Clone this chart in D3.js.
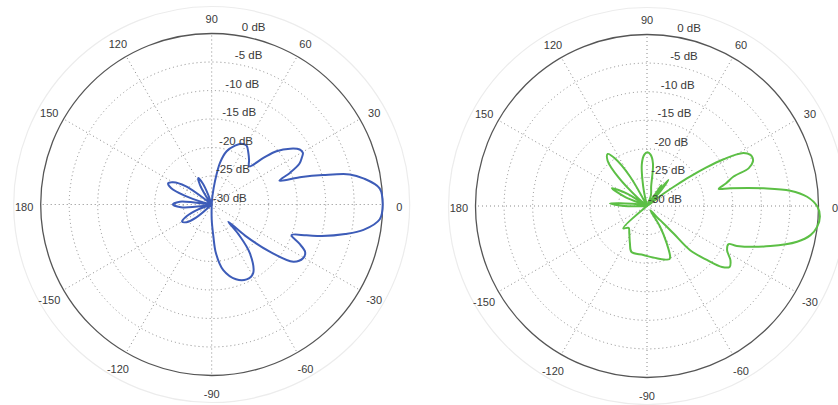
<!DOCTYPE html>
<html>
<head>
<meta charset="utf-8">
<script src="https://cdn.jsdelivr.net/npm/d3@7"></script>
<style>
  html, body { margin: 0; padding: 0; background: #ffffff; }
  svg { display: block; }
  text { font-family: "Liberation Sans", Arial, sans-serif; fill: #3a3a3a; }
</style>
</head>
<body>
<svg id="chart" width="838" height="405"></svg>
<script>
// Radial axis ticks (dB) and angular ticks (degrees)
const dbTicks = [0, -5, -10, -15, -20, -25, -30];
const angleTicks = [0, 30, 60, 90, 120, 150, 180, -150, -120, -90, -60, -30];

// Pattern 1 (blue): angle in degrees, gain in dB
const blueAngles = [-180, -175, -170, -165, -160, -155, -150, -145, -140, -135, -115, -95,
  -90, -87, -85, -80, -72, -65, -59, -52, -48, -46, -43, -39, -35, -30.5, -27, -24, -21, -18, -16,
  -12.5, -9.5, -5, 0, 5.5, 9.8, 12.3, 14.8, 17, 19.4, 22, 25, 27.4, 29.6, 32, 35.4, 39.4, 42,
  45.5, 50, 54.6, 59.3, 63.7, 68.4, 74.3, 78.7, 82, 85, 88, 96, 105, 110, 113, 117, 121, 125, 128,
  134, 140, 145, 150, 154, 158, 162, 166, 170, 175];
const blueGain = [-23.2, -24.6, -28.5, -30, -27.5, -25.2, -24, -24.6, -26.5, -30, -30, -30,
  -27.4, -24.4, -21.4, -18.3, -16.2, -15.5, -15.9, -19.1, -23, -25.8, -22, -16.8, -12.5, -11.4, -11.6, -13.2, -15, -12.5, -9.9,
  -6, -3, -0.4, 0, -0.4, -3, -5.2, -9.8, -13.5, -17.4, -15.2, -13, -12.2, -11.6, -11.8, -13.1, -15.3, -17.8,
  -20.6, -19.8, -18.9, -18, -18.1, -18.9, -20.3, -22.5, -25.9, -28.5, -30, -30, -30, -28, -26, -24.8, -26, -28.5, -30,
  -30, -30, -24.4, -22.2, -21.5, -22.3, -25, -28.5, -30, -24.4];

// Pattern 2 (green): angle in degrees, gain in dB
const greenAngles = [-180, -175, -170, -155, -140, -136.7, -130, -122.9, -114.5, -108.6, -94.3, -79.5,
  -67.3, -65.6, -62.2, -57.8, -52, -48, -47, -46, -45.7, -42, -39.1, -36.4, -33, -28.9, -25, -24,
  -18, -13.4, -10.1, -6.9, -3.5, -0.2, 3.3, 6.1, 8.6, 12, 13.4, 16, 18.8, 20.4, 22.8, 24.5, 26.3,
  29.1, 31.4, 33, 34.3, 35.5, 37, 42, 47, 50.6, 53, 55.5, 58, 62, 70, 78, 82, 86, 89.6, 93, 97,
  101, 106, 115, 120, 124, 127, 131, 135, 139, 144, 148, 153, 158, 163, 170, 176];
const greenGain = [-26, -30, -30, -30, -30, -24.3, -25, -24.3, -22.8, -21.5, -21.4, -20.7,
  -19.9, -20.2, -22.6, -25.7, -29, -27, -26.6, -23.3, -19.2, -15.9, -13.1, -12.05, -12.6, -14, -14.25, -12.8,
  -7.3, -3, -0.95, 0, 0.3, -0.2, -1.95, -4.8, -9.35, -15.1, -17.1, -15.6, -14, -11, -9.9, -9.7, -9.8,
  -11, -14.3, -17.7, -20.9, -23.9, -26.5, -30, -27, -24.1, -28, -25.5, -30, -30, -28, -26.5, -22.5, -21, -20.6, -21, -22.6,
  -26.5, -30, -30, -24, -20, -18.6, -19.5, -23, -28, -30, -26, -23.1, -26, -30, -28, -23.5];

const svg = d3.select("#chart");

function polarPlot(cx, cy, R, angles, gains, color) {
  const g = svg.append("g").attr("transform", `translate(${cx},${cy})`);
  const r = d3.scaleLinear().domain([-30, 0]).range([0, R]);
  const rad = d => d * Math.PI / 180;

  // faint outer halo
  g.append("circle").attr("r", R + 27).attr("fill", "none")
    .attr("stroke", "#ececec").attr("stroke-width", 1.2);

  // dotted rings
  g.selectAll("circle.ring").data(dbTicks.filter(d => d > -30 && d < 0)).join("circle")
    .attr("class", "ring").attr("r", d => r(d)).attr("fill", "none")
    .attr("stroke", "#8a8a8a").attr("stroke-width", 1).attr("stroke-dasharray", "1,3");

  // dotted spokes
  g.selectAll("line.spoke").data(angleTicks).join("line")
    .attr("class", "spoke")
    .attr("x1", 0).attr("y1", 0)
    .attr("x2", d => R * Math.cos(rad(d))).attr("y2", d => -R * Math.sin(rad(d)))
    .attr("stroke", "#8a8a8a").attr("stroke-width", 1).attr("stroke-dasharray", "1,3");

  // solid 0 dB circle
  g.append("circle").attr("r", r(0)).attr("fill", "none")
    .attr("stroke", "#555").attr("stroke-width", 1.3);

  // pattern
  const pts = angles.map((a, i) => [rad(90 - a), r(Math.max(-30, gains[i]))]);
  const line = d3.lineRadial().curve(d3.curveCatmullRomClosed.alpha(0.5));
  g.append("path").attr("d", line(pts)).attr("fill", "none")
    .attr("stroke", color).attr("stroke-width", 2).attr("stroke-linejoin", "round");

  // angular labels
  const LR = R + 16.6;
  g.selectAll("text.ang").data(angleTicks).join("text")
    .attr("class", "ang")
    .attr("x", d => LR * Math.cos(rad(d)))
    .attr("y", d => -LR * Math.sin(rad(d)) + 2)
    .attr("text-anchor", "middle").attr("dominant-baseline", "central")
    .attr("font-size", 11).text(d => d);

  // dB labels
  g.selectAll("text.db").data(dbTicks).join("text")
    .attr("class", "db")
    .attr("x", d => 35 + 0.11 * r(d))
    .attr("y", d => -r(d) - 7)
    .attr("text-anchor", "end").attr("dominant-baseline", "central")
    .attr("font-size", 11.5).text(d => `${d} dB`);
}

polarPlot(211.7, 204.5, 171, blueAngles, blueGain, "#3d5cb8");
polarPlot(647, 206, 171.5, greenAngles, greenGain, "#5cbf45");
</script>
</body>
</html>
